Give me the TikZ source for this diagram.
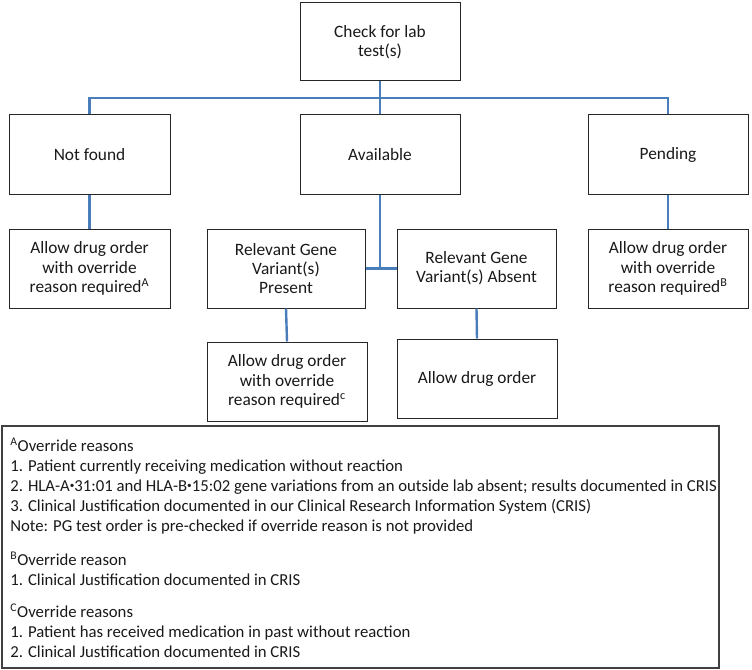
\documentclass[tikz,border=0pt]{standalone}
\usepackage{fontspec}
\setmainfont{Carlito}
\newcommand{\hladot}{\raisebox{0.3ex}{\scalebox{0.55}{\textbullet}}}
\begin{document}
\begin{tikzpicture}[x=0.75pt,y=-0.75pt,
  box/.style={draw=black!85,line width=0.75pt,fill=white,align=center,inner sep=0pt,
    font=\fontsize{13}{14.4}\selectfont,text=black!90},
  conn/.style={draw=connblue,line width=1.8pt},
  note/.style={anchor=base west,inner sep=0pt,font=\fontsize{12.55}{14}\selectfont,text=black!90}]
\definecolor{connblue}{HTML}{4A7EBB}
\useasboundingbox (0,0) rectangle (752,670);
% boxes
\node[box,minimum width=120pt,minimum height=58.5pt] (top) at (380,42) {Check for lab\\test(s)};
\node[box,minimum width=120.75pt,minimum height=60pt] (nf) at (89.5,155) {Not found};
\node[box,minimum width=120pt,minimum height=60pt] (av) at (380,155) {Available};
\node[box,minimum width=120pt,minimum height=60pt] (pe) at (668,155) {\vphantom{A}Pending};
\node[box,minimum width=120.75pt,minimum height=59.25pt] (lc) at (89.5,268.5) {Allow drug order\\with override\\reason required\textsuperscript{A}};
\node[box,minimum width=118.5pt,minimum height=59.25pt] (pr) at (286,268.5) {Relevant Gene\\Variant(s)\\Present};
\node[box,minimum width=119.25pt,minimum height=59.25pt] (ab) at (476.5,268.5) {Relevant Gene\\Variant(s) Absent};
\node[box,minimum width=120pt,minimum height=59.25pt] (pc) at (668,268.5) {Allow drug order\\with override\\reason required\textsuperscript{B}};
\node[box,minimum width=120pt,minimum height=59.25pt] (prc) at (287,381.5) {Allow drug order\\with override\\reason required\textsuperscript{c}};
\node[box,minimum width=120pt,minimum height=59.25pt] (abc) at (477,378.5) {Allow drug order};
% connectors
\coordinate (bus) at (380,98);
\draw[conn] (top.south) -- (bus);
\draw[conn] (nf.north) -- (nf.north |- bus) -- (pe.north |- bus) -- (pe.north);
\draw[conn] (bus) -- (av.north);
\draw[conn] (nf.south) -- (lc.north);
\draw[conn] (pe.south) -- (pc.north);
\draw[conn] (av.south) -- (av.south |- pr.east);
\draw[conn] (pr.east) -- (ab.west);
\draw[conn] (pr.south) -- (prc.north);
\draw[conn] (ab.south) -- (abc.north);
% notes
\node[draw=black!75,line width=1pt,minimum width=537.75pt,minimum height=181.5pt,inner sep=0pt] (notes) at (360.5,547) {};
\node[note] (n1) at (10,451) {\textsuperscript{A}Override reasons};
\node[note] (n2) at (10,471) {1. Patient currently receiving medication without reaction};
\node[note] (n3) at (10,491) {2. HLA-A\hladot 31:01 and HLA-B\hladot 15:02 gene variations from an outside lab absent; results documented in CRIS};
\node[note] (n4) at (10,511) {3. Clinical Justification documented in our Clinical Research Information System (CRIS)};
\node[note] (n5) at (10,531) {Note: PG test order is pre-checked if override reason is not provided};
\node[note] (n6) at (10,565) {\textsuperscript{B}Override reason};
\node[note] (n7) at (10,585) {1. Clinical Justification documented in CRIS};
\node[note] (n8) at (10,617) {\textsuperscript{C}Override reasons};
\node[note] (n9) at (10,637) {1. Patient has received medication in past without reaction};
\node[note] (n10) at (10,657) {2. Clinical Justification documented in CRIS};
\end{tikzpicture}
\end{document}
